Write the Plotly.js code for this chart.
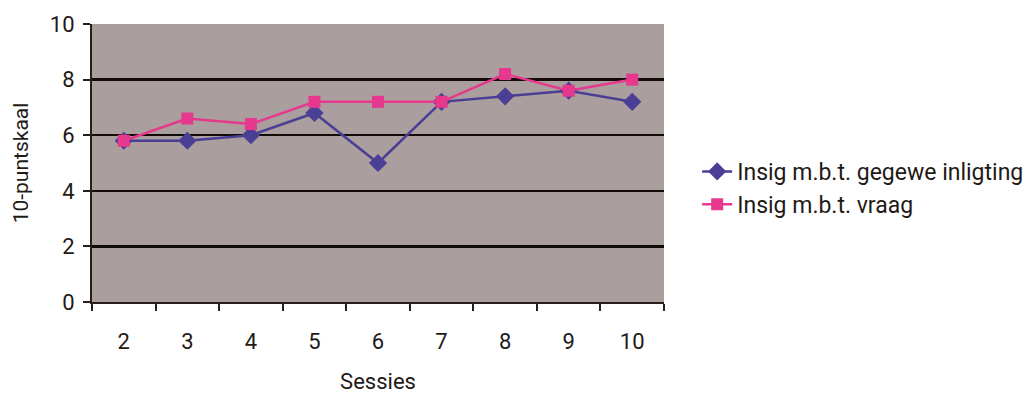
<!DOCTYPE html>
<html>
<head>
<meta charset="utf-8">
<script src="https://cdn.plot.ly/plotly-3.0.1.min.js"></script>
<style>
  html, body { margin: 0; padding: 0; background: #ffffff; }
  #chart { width: 1031px; height: 397px; }
</style>
</head>
<body>
<div id="chart"></div>
<script>
// Sessions on the x axis
const sessies = ['2', '3', '4', '5', '6', '7', '8', '9', '10'];

// Scores on a 10-point scale
const insigInligting = [5.8, 5.8, 6.0, 6.8, 5.0, 7.2, 7.4, 7.6, 7.2];
const insigVraag = [5.8, 6.6, 6.4, 7.2, 7.2, 7.2, 8.2, 7.6, 8.0];

const seriesNames = ['Insig m.b.t. gegewe inligting', 'Insig m.b.t. vraag'];
const yTicks = [0, 2, 4, 6, 8, 10];

const fontFamily = 'Roboto, "Liberation Sans", Arial, sans-serif';
const textColor = '#1f1a16';

const traces = [
  {
    x: sessies,
    y: insigInligting,
    name: seriesNames[0],
    type: 'scatter',
    mode: 'lines+markers',
    line: { color: '#4b3f95', width: 2.5 },
    marker: { symbol: 'diamond', size: 14, color: '#4b3f95' }
  },
  {
    x: sessies,
    y: insigVraag,
    name: seriesNames[1],
    type: 'scatter',
    mode: 'lines+markers',
    line: { color: '#e6388c', width: 2.5 },
    marker: { symbol: 'square', size: 12, color: '#e6388c' }
  }
];

const layout = {
  width: 1031,
  height: 397,
  margin: { l: 92, r: 367, t: 24, b: 95, autoexpand: false },
  paper_bgcolor: '#ffffff',
  plot_bgcolor: '#aa9e9e',
  font: { family: fontFamily, size: 22, color: textColor },
  showlegend: true,
  legend: {
    x: 1.058,
    xanchor: 'left',
    y: 0.41,
    yanchor: 'middle',
    bgcolor: 'rgba(0,0,0,0)',
    font: { family: fontFamily, size: 23, color: textColor },
    tracegroupgap: 0
  },
  xaxis: {
    type: 'category',
    range: [-0.5, 8.5],
    tickson: 'boundaries',
    ticks: 'outside',
    ticklen: 7,
    tickwidth: 2,
    tickcolor: '#2a1f18',
    ticklabelstandoff: 19,
    showgrid: false,
    showline: true,
    linecolor: '#2a1f18',
    linewidth: 2,
    zeroline: false,
    tickfont: { size: 22, color: textColor },
    title: { text: 'Sessies', font: { size: 22, color: textColor }, standoff: 20 },
    fixedrange: true
  },
  yaxis: {
    range: [0, 10],
    tickvals: yTicks,
    ticks: 'outside',
    ticklen: 7,
    tickwidth: 2,
    tickcolor: '#2a1f18',
    ticklabelstandoff: 4,
    showgrid: true,
    gridcolor: '#120c08',
    gridwidth: 2.5,
    showline: true,
    linecolor: '#2a1f18',
    linewidth: 2,
    zeroline: false,
    tickfont: { size: 22, color: textColor },
    title: { text: '10-puntskaal', font: { size: 21, color: textColor }, standoff: 16 },
    fixedrange: true
  }
};

Plotly.newPlot('chart', traces, layout, { displayModeBar: false, staticPlot: true });
</script>
</body>
</html>
